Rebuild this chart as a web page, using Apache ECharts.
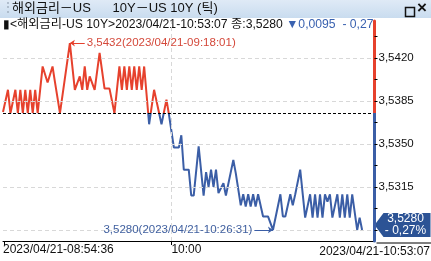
<!DOCTYPE html>
<html><head><meta charset="utf-8">
<script src="https://cdn.jsdelivr.net/npm/echarts@6/dist/echarts.min.js"></script>
<style>html,body{margin:0;padding:0;background:#fff;overflow:hidden}#c{width:431px;height:261px}</style>
</head><body><div id="c"></div>
<script>
// ---- texts ----
const windowTitle = '해외금리－US      10Y－US 10Y (틱)';
const headerMain = '▮<해외금리-US 10Y>2023/04/21-10:53:07 종:3,5280 ';
const headerChange = '▼0,0095  - 0,27';
const maxLabel = '3,5432(2023/04/21-09:18:01)';
const minLabel = '3,5280(2023/04/21-10:26:31)';
const lastLabel = '3,5280\n- 0,27%';
const endTimeLabel = '2023/04/21-10:53:07';

// ---- axes ----
const baseValue = 3.5375;
const yMin = 3.5271;
const yMax = 3.5450;
const yLabelValues = [3.5420, 3.5385, 3.5350, 3.5315];
const yGridValues = [3.5420, 3.5385, 3.5350, 3.5315, 3.5280];
const yTickValues = [3.54375, 3.5420, 3.54025, 3.5385, 3.53675, 3.5350, 3.53325, 3.5315, 3.52975, 3.5280];
const tickCountMax = 150;
const xLabelTicks = [0, 68];
const xLabelTexts = ['2023/04/21-08:54:36', '10:00'];
const xGridTicks = [68];

// ---- series (tick number, price) ----
const tickIndex = [0,2,3,5,6,7,8,9,10,11,12,13,14,16,18,20,21,23,27,29,31,32,33,34,35,37,39,41,43,45,47,48,49,50,51,52,53,54,55,56,57,59,61,64,66,67,69,71,72,73,75,76,77,79,81,82,83,84,85,86,87,89,90,93,94,96,97,98,99,100,101,102,103,105,107,109,112,113,114,116,117,118,120,122,124,125,126,127,128,129,130,131,132,133,135,136,137,138,139,140,141,143,144,145];
const prices = [3.5376,3.5394,3.5375,3.5394,3.5375,3.5394,3.5375,3.5394,3.5375,3.5394,3.5375,3.5394,3.5375,3.5413,3.5400,3.5413,3.5400,3.5375,3.5432,3.5394,3.5405,3.5394,3.5413,3.5394,3.5405,3.5394,3.5424,3.5395,3.5395,3.5375,3.5413,3.5394,3.5413,3.5394,3.5413,3.5394,3.5413,3.5394,3.5413,3.5394,3.5413,3.5366,3.5394,3.5366,3.5386,3.5374,3.5347,3.5347,3.5357,3.5329,3.5329,3.5308,3.5308,3.5348,3.5308,3.5327,3.5315,3.5329,3.5315,3.5329,3.5310,3.5318,3.5308,3.5337,3.5326,3.5300,3.5309,3.5299,3.5309,3.5299,3.5309,3.5299,3.5309,3.5291,3.5291,3.5280,3.5309,3.5291,3.5291,3.5309,3.5300,3.5309,3.5329,3.5290,3.5309,3.5290,3.5309,3.5290,3.5309,3.5290,3.5309,3.5303,3.5309,3.5290,3.5309,3.5290,3.5309,3.5290,3.5309,3.5290,3.5309,3.5280,3.5290,3.5280];

const RED = '#e6412d', BLUE = '#3b5ea6', LABEL_RED = '#d4483a', LABEL_BLUE = '#3f5f9f';
const FONT = "'Liberation Sans','Noto Sans CJK KR',sans-serif";
const data = tickIndex.map((t, i) => [t, prices[i]]);
let maxI = 0, minI = 0;
prices.forEach((p, i) => { if (p > prices[maxI]) maxI = i; if (p < prices[minI]) minI = i; });
const lastI = prices.length - 1;
const fmt = v => v.toFixed(4).replace('.', ',');
const frac = (yMax - baseValue) / (yMax - yMin);

const gridStyle = {color: '#d8d8d8', type: [4, 3], width: 1};
const noLabel = {show: false};
const markLines = []
  .concat(yGridValues.map(v => ({yAxis: v, lineStyle: gridStyle, label: noLabel})))
  .concat(xGridTicks.map(t => ({xAxis: t, lineStyle: gridStyle, label: noLabel})))
  .concat([{yAxis: baseValue, lineStyle: {color: '#000', type: [3, 2], width: 1}, label: noLabel}])
  .concat([[
    {coord: [tickIndex[maxI], prices[maxI]], symbol: 'arrow', symbolSize: 5,
      lineStyle: {color: RED, type: 'solid', width: 1},
      label: {show: true, position: 'end', formatter: maxLabel, color: LABEL_RED, fontSize: 11.5, fontFamily: FONT, distance: 2}},
    {coord: [tickIndex[maxI] + 6, prices[maxI]], symbol: 'none'}
  ], [
    {coord: [tickIndex[minI] - 7.5, prices[minI]], symbol: 'none',
      lineStyle: {color: BLUE, type: 'solid', width: 1},
      label: {show: true, position: 'start', formatter: minLabel, color: LABEL_BLUE, fontSize: 11.5, fontFamily: FONT, distance: 2}},
    {coord: [tickIndex[minI], prices[minI]], symbol: 'arrow', symbolSize: 5}
  ]]);

const chart = echarts.init(document.getElementById('c'), null, {renderer: 'canvas'});
chart.setOption({
  animation: false,
  grid: {left: 0, right: 56.5, top: 21, bottom: 20},
  visualMap: {type: 'piecewise', show: false, dimension: 1, seriesIndex: 0,
    pieces: [{gt: baseValue, lte: yMax, color: RED}, {gte: yMin, lte: baseValue, color: BLUE}],
    outOfRange: {color: BLUE}},
  xAxis: {type: 'value', min: 0, max: tickCountMax,
    axisLine: {show: true, onZero: false, lineStyle: {color: '#000', width: 1}},
    axisTick: {show: true, customValues: [0.6, 68], length: 4, lineStyle: {color: '#000'}},
    axisLabel: {customValues: xLabelTicks, formatter: v => xLabelTexts[xLabelTicks.indexOf(v)] || '',
      align: 'left', margin: 3, fontSize: 12, color: '#111', fontFamily: FONT},
    splitLine: {show: false}},
  yAxis: {type: 'value', position: 'right', min: yMin, max: yMax, z: 10,
    axisLine: {show: true, onZero: false, lineStyle: {width: 3, color: new echarts.graphic.LinearGradient(0, 0, 0, 1, [
      {offset: 0, color: RED}, {offset: frac, color: RED}, {offset: frac, color: BLUE}, {offset: 1, color: BLUE}])}},
    axisTick: {show: true, customValues: yTickValues, length: 3, lineStyle: {color: '#000'}},
    axisLabel: {customValues: yLabelValues, formatter: fmt, margin: 4, fontSize: 11.5, color: '#111', fontFamily: FONT},
    splitLine: {show: false}},
  graphic: [
    {type: 'rect', left: 0, top: 0, z: 0, shape: {width: 431, height: 18},
      style: {fill: new echarts.graphic.LinearGradient(0, 0, 0, 1, [{offset: 0, color: '#dfeaf6'}, {offset: 1, color: '#c9dcef'}])}},
    {type: 'text', left: 12, top: 2, style: {text: windowTitle, fill: '#111', font: '13px ' + FONT}},
    {type: 'rect', left: 403, top: 5, shape: {width: 9, height: 9}, style: {fill: 'none', stroke: '#111', lineWidth: 1.5}},
    {type: 'text', left: 417, top: 0, style: {text: '×', fill: '#111', font: 'bold 17px ' + FONT}},
    {type: 'text', left: 2, top: 2, style: {text: '⋮', fill: '#9aa8b8', font: '12px ' + FONT}},
    {type: 'text', left: 3, top: 19, z: 0, style: {
      text: '{a|' + headerMain + '}{b|' + headerChange + '}',
      rich: {a: {fill: '#111', fontSize: 12.2, fontFamily: FONT}, b: {fill: '#3a62b0', fontSize: 12.2, fontFamily: FONT}}}},
    {type: 'line', left: 374, top: 240.5, shape: {x1: 0, y1: 0, x2: 57, y2: 0}, style: {stroke: '#000', lineWidth: 1}},
    {type: 'text', right: 1, bottom: 3, style: {text: endTimeLabel, fill: '#111', font: '12px ' + FONT}}
  ],
  series: [
    {type: 'line', data: data, showSymbol: false, lineStyle: {width: 2}, z: 3, clip: true,
      markLine: {silent: true, symbol: 'none', precision: 4, animation: false, data: markLines},
      markPoint: {silent: true, symbol: 'path://M0,12L9,0L56,0L56,24L9,24Z', symbolSize: [56, 24],
        symbolOffset: ['50%', -5], symbolKeepAspect: false, itemStyle: {color: '#2c5395'},
        label: {show: true, position: 'inside', formatter: lastLabel, color: '#fff', fontSize: 12, lineHeight: 12, fontFamily: FONT, offset: [3, 0]},
        data: [{coord: [tickCountMax, prices[lastI]]}]}}
  ]
});
</script></body></html>
